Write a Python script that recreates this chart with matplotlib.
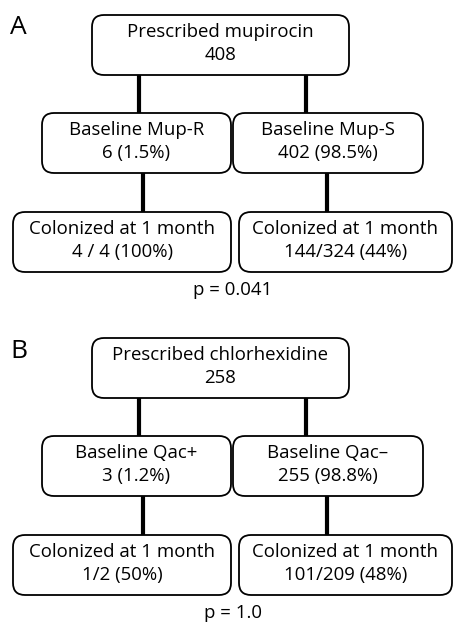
"""
Flow diagram: baseline resistance and colonization at 1 month
(panel A mupirocin, panel B chlorhexidine).
"""

import matplotlib.pyplot as plt
from matplotlib.patches import FancyBboxPatch

plt.rcParams["font.family"] = ["Open Sans", "DejaVu Sans"]

# data
PANELS = ["A", "B"]
TOP_LABELS = ["Prescribed mupirocin", "Prescribed chlorhexidine"]
TOP_COUNTS = ["408", "258"]
BASE_LABELS = [["Baseline Mup-R", "Baseline Mup-S"], ["Baseline Qac+", "Baseline Qac\u2013"]]
BASE_COUNTS = [["6 (1.5%)", "402 (98.5%)"], ["3 (1.2%)", "255 (98.8%)"]]
COL_LABEL = "Colonized at 1 month"
COL_COUNTS = [["4 / 4 (100%)", "144/324 (44%)"], ["1/2 (50%)", "101/209 (48%)"]]
P_VALUES = ["p = 0.041", "p = 1.0"]

# layout (pixels, y measured from top of panel)
W, H = 453, 622
PANEL_Y0 = [0, 323]
TOP_BOX = (92, 15, 257, 60)
BASE_BOXES = [(42, 113, 189, 60), (233, 113, 190, 60)]
COL_BOXES = [(13, 212, 218, 60), (239, 212, 213, 60)]
TOP_LINKS_X = [139, 306]
BASE_LINKS_X = [143, 327]
FS = 13.4
LW_BOX = 1.3
LW_LINK = 3.0


def box(ax, x, y, w, h):
    ax.add_patch(FancyBboxPatch((x, y), w, h,
                                boxstyle="round,pad=0,rounding_size=12",
                                fc="white", ec="black", lw=LW_BOX, zorder=3))


def two_lines(ax, cx, y, h, l1, l2):
    ax.text(cx, y + h * 0.29, l1, ha="center", va="center", fontsize=FS, zorder=4)
    ax.text(cx, y + h * 0.67, l2, ha="center", va="center", fontsize=FS, zorder=4)


fig = plt.figure(figsize=(W / 100, H / 100), dpi=100)
ax = fig.add_axes([0, 0, 1, 1])
ax.set_xlim(0, W)
ax.set_ylim(H, 0)
ax.axis("off")

for i, panel in enumerate(PANELS):
    y0 = PANEL_Y0[i]
    ax.text(10, y0 + 28, panel, ha="left", va="center", fontsize=19)

    tx, ty, tw, th = TOP_BOX
    box(ax, tx, y0 + ty, tw, th)
    two_lines(ax, tx + tw / 2, y0 + ty, th, TOP_LABELS[i], TOP_COUNTS[i])

    for j in range(2):
        bx, by, bw, bh = BASE_BOXES[j]
        ax.plot([TOP_LINKS_X[j]] * 2, [y0 + ty + th, y0 + by], color="black",
                lw=LW_LINK, solid_capstyle="butt", zorder=2)
        box(ax, bx, y0 + by, bw, bh)
        two_lines(ax, bx + bw / 2, y0 + by, bh, BASE_LABELS[i][j], BASE_COUNTS[i][j])

        cx, cy, cw, ch = COL_BOXES[j]
        ax.plot([BASE_LINKS_X[j]] * 2, [y0 + by + bh, y0 + cy], color="black",
                lw=LW_LINK, solid_capstyle="butt", zorder=2)
        box(ax, cx, y0 + cy, cw, ch)
        two_lines(ax, cx + cw / 2, y0 + cy, ch, COL_LABEL, COL_COUNTS[i][j])

    ax.text(233, y0 + 290, P_VALUES[i], ha="center", va="center", fontsize=FS)

fig.savefig("out.png", dpi=100, facecolor="white")
